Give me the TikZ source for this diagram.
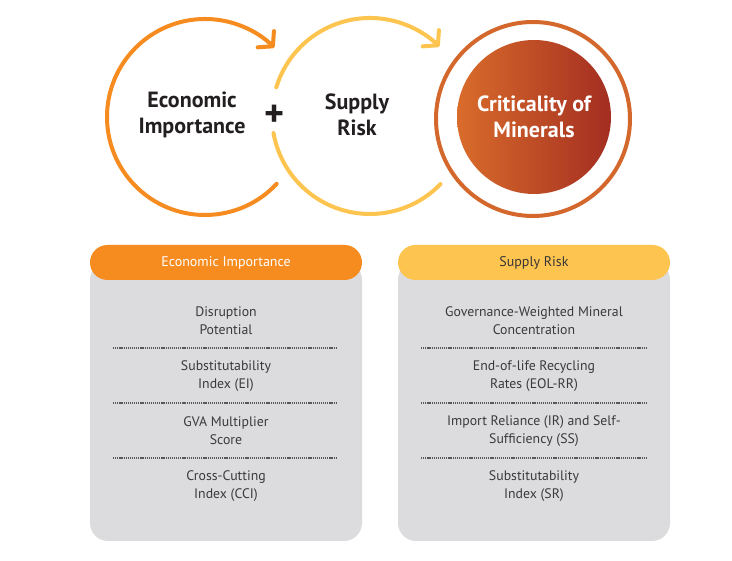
\documentclass[tikz,border=0pt]{standalone}
\usepackage{fontspec}
\setmainfont{PT Sans}
\usetikzlibrary{arrows.meta}
\definecolor{eiorange}{HTML}{F68B1F}
\definecolor{sryellow}{HTML}{FDC54F}
\definecolor{ringorange}{HTML}{D4682C}
\definecolor{gradleft}{HTML}{D96C2B}
\definecolor{gradright}{HTML}{A32E21}
\definecolor{boxgray}{HTML}{DCDCDE}
\definecolor{itemtext}{HTML}{3A3A3C}
\definecolor{toptext}{HTML}{231F20}
\begin{document}
\begin{tikzpicture}[x=1pt,y=1pt,
  loop/.style={line width=4pt, line cap=round},
  loophead/.style={-{Straight Barb[length=10pt,width=23pt,line cap=round,line join=round]}},
  bigtext/.style={font=\bfseries\fontsize{22}{26}\selectfont, align=center, inner sep=0pt},
  item/.style={font=\fontsize{13.8}{18}\selectfont, text=itemtext, align=center, inner sep=0pt},
  headtext/.style={font=\fontsize{14}{16}\selectfont, inner sep=0pt},
  sepline/.style={line width=1.3pt, dash pattern=on 1.2pt off 0.9pt, color=itemtext!85},
  panel/.style={fill=boxgray, rounded corners=18pt},
  pill/.style={rounded corners=17.5pt}
]
\useasboundingbox (0,0) rectangle (732,561);
\fill[white] (0,0) rectangle (732,561);

% ---- top circles ----
% Economic Importance (orange)
\coordinate (c1) at (205,444);
\draw[loop, eiorange, loophead] (c1) ++(-43:98) arc[start angle=-43, end angle=-315, radius=98];
% Supply Risk (yellow) with gap for the plus sign
\coordinate (c2) at (370,445);
\draw[loop, sryellow] (c2) ++(-44:98) arc[start angle=-44, end angle=-170, radius=98];
\draw[loop, sryellow, loophead] (c2) ++(-197:98) arc[start angle=-197, end angle=-315, radius=98];
% Criticality ring
\coordinate (c3) at (533,442);
\draw[line width=4pt, ringorange] (c3) circle[radius=97];
\shade[left color=gradleft, right color=gradright] (534,444) circle[radius=77];

\node[bigtext, text=toptext] (ei) at (192,446) {Economic\\Importance};
\node[bigtext, text=toptext] (sr) at (357,446) {Supply\\Risk};
\node[bigtext, text=toptext, font=\bfseries\fontsize{38}{38}\selectfont] (plus) at (275,445.5) {+};
\node[bigtext, text=white] (crit) at (534,444) {Criticality of\\Minerals};

% ---- left panel ----
\fill[panel] (90,20) rectangle (362,299);
\fill[pill, eiorange] (90,281) rectangle (362,316);
\node[headtext, text=white] (eihead) at (226,298.5) {Economic Importance};
\node[item] (ei1) at (226,240.5) {Disruption\\Potential};
\draw[sepline] (113,213) -- (336,213);
\node[item] (ei2) at (226,185.3) {Substitutability\\Index (EI)};
\draw[sepline] (113,158) -- (336,158);
\node[item] (ei3) at (226,130.2) {GVA Multiplier\\Score};
\draw[sepline] (113,103) -- (336,103);
\node[item] (ei4) at (226,75) {Cross-Cutting\\Index (CCI)};

% ---- right panel ----
\fill[panel] (398,20) rectangle (670,299);
\fill[pill, sryellow] (398,281) rectangle (670,316);
\node[headtext, text=toptext!90] (srhead) at (534,298.5) {Supply Risk};
\node[item] (sr1) at (534,240.5) {Governance-Weighted Mineral\\Concentration};
\draw[sepline] (421,213) -- (646,213);
\node[item] (sr2) at (534,185.3) {End-of-life Recycling\\Rates (EOL-RR)};
\draw[sepline] (421,158) -- (646,158);
\node[item] (sr3) at (534,130.2) {Import Reliance (IR) and Self-\\Sufficiency (SS)};
\draw[sepline] (421,103) -- (646,103);
\node[item] (sr4) at (534,75) {Substitutability\\Index (SR)};
\end{tikzpicture}
\end{document}
